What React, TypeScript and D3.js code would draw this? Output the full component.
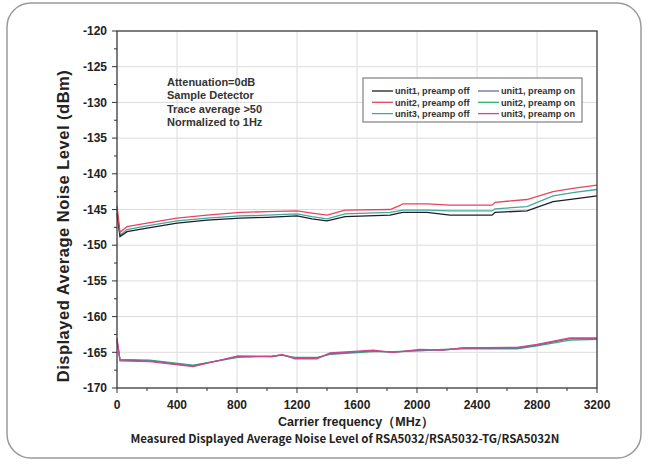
import React from "react";
import * as d3 from "d3";

const W = 648;
const H = 467;

// Upper group (preamp off)
const freqOff = [0, 20, 67, 200, 400, 600, 820, 1000, 1200, 1300, 1400, 1520, 1820, 1880, 1907, 2067, 2220, 2500, 2520, 2733, 2907, 3050, 3200];
const unit1Off = [-145.5, -148.8, -148.1, -147.6, -146.9, -146.5, -146.2, -146.1, -145.9, -146.3, -146.6, -146.0, -145.8, -145.5, -145.4, -145.4, -145.8, -145.8, -145.4, -145.2, -143.9, -143.5, -143.1];
const unit2Off = [-144.5, -148.2, -147.4, -146.9, -146.2, -145.8, -145.4, -145.3, -145.2, -145.5, -145.8, -145.1, -145.0, -144.5, -144.2, -144.2, -144.4, -144.4, -144.0, -143.6, -142.5, -142.0, -141.6];
const unit3Off = [-145.0, -148.6, -147.8, -147.3, -146.6, -146.2, -145.9, -145.8, -145.6, -146.0, -146.3, -145.6, -145.4, -145.2, -145.1, -145.1, -145.2, -145.2, -144.9, -144.6, -143.1, -142.6, -142.2];

// Lower group (preamp on)
const freqOn = [0, 20, 220, 507, 807, 1033, 1100, 1187, 1333, 1420, 1553, 1707, 1840, 2020, 2173, 2307, 2667, 2800, 3020, 3200];
const unit1On = [-163.3, -166.1, -166.2, -166.9, -165.6, -165.6, -165.4, -165.8, -165.8, -165.2, -165.0, -164.8, -165.0, -164.7, -164.7, -164.4, -164.4, -164.0, -163.1, -163.1];
const unit2On = [-163.5, -166.0, -166.1, -166.8, -165.7, -165.5, -165.4, -165.7, -165.7, -165.3, -165.1, -164.9, -164.9, -164.8, -164.6, -164.5, -164.5, -164.1, -163.3, -163.2];
const unit3On = [-163.0, -166.2, -166.3, -167.0, -165.5, -165.6, -165.3, -165.9, -165.9, -165.1, -164.9, -164.7, -165.0, -164.6, -164.7, -164.4, -164.3, -163.9, -163.0, -163.0];

const xTicks = [0, 400, 800, 1200, 1600, 2000, 2400, 2800, 3200];
const yTicks = [-170, -165, -160, -155, -150, -145, -140, -135, -130, -125, -120];

const annotationLines = ["Attenuation=0dB", "Sample Detector", "Trace average >50", "Normalized to 1Hz"];

const seriesNames = ["unit1, preamp off", "unit2, preamp off", "unit3, preamp off", "unit1, preamp on", "unit2, preamp on", "unit3, preamp on"];
const seriesColors = ["#1e1e2a", "#e8445e", "#40a8a0", "#6b6ba6", "#2fb170", "#d0458e"];

const series = [
  { name: seriesNames[0], color: seriesColors[0], x: freqOff, y: unit1Off },
  { name: seriesNames[1], color: seriesColors[1], x: freqOff, y: unit2Off },
  { name: seriesNames[2], color: seriesColors[2], x: freqOff, y: unit3Off },
  { name: seriesNames[3], color: seriesColors[3], x: freqOn, y: unit1On },
  { name: seriesNames[4], color: seriesColors[4], x: freqOn, y: unit2On },
  { name: seriesNames[5], color: seriesColors[5], x: freqOn, y: unit3On },
];

const drawOrder = [2, 0, 1, 4, 3, 5];

export default function App() {
  const L = 117, R = 597, T = 31, B = 388;
  const x = d3.scaleLinear().domain([0, 3200]).range([L, R]);
  const y = d3.scaleLinear().domain([-170, -120]).range([B, T]);
  const line = d3.line<[number, number]>().x(d => x(d[0])).y(d => y(d[1]));
  const xMinor = d3.range(200, 3200, 400);
  const yMinor = d3.range(-167.5, -120, 5);
  const font = "Arial, 'Liberation Sans', sans-serif";

  return (
    <svg width={W} height={H} style={{ position: "absolute", left: 0, top: 0, background: "#fff" }}>
      <rect x={0} y={0} width={W} height={H} fill="#fff" />
      <rect x={7} y={3} width={634} height={455} rx={24} ry={24} fill="#fff" stroke="#9a9a9a" strokeWidth={1.5} />
      {/* grid */}
      {xTicks.slice(1, -1).map(t => (
        <line key={"gx" + t} x1={x(t)} x2={x(t)} y1={T} y2={B} stroke="#dcdcdc" strokeWidth={1} />
      ))}
      {yTicks.slice(1, -1).map(t => (
        <line key={"gy" + t} x1={L} x2={R} y1={y(t)} y2={y(t)} stroke="#dcdcdc" strokeWidth={1} />
      ))}
      {/* series */}
      {drawOrder.map(i => {
        const s = series[i];
        const pts = s.x.map((f, k) => [f, s.y[k]] as [number, number]);
        return <path key={s.name} d={line(pts) || ""} fill="none" stroke={s.color} strokeWidth={1.3} />;
      })}
      {/* frame */}
      <rect x={L} y={T} width={R - L} height={B - T} fill="none" stroke="#3a3a3a" strokeWidth={1.3} />
      {/* y ticks */}
      {yTicks.map(t => (
        <g key={"yt" + t}>
          <line x1={L - 5} x2={L} y1={y(t)} y2={y(t)} stroke="#333" strokeWidth={1} />
          <text x={L - 10} y={y(t)} dy="0.35em" textAnchor="end" fontFamily={font} fontWeight="bold" fontSize={12} fill="#222">{t}</text>
        </g>
      ))}
      {yMinor.map(t => (
        <line key={"ym" + t} x1={L - 3} x2={L} y1={y(t)} y2={y(t)} stroke="#333" strokeWidth={1} />
      ))}
      {/* x ticks */}
      {xTicks.map(t => (
        <g key={"xt" + t}>
          <line x1={x(t)} x2={x(t)} y1={B} y2={B + 5} stroke="#333" strokeWidth={1} />
          <text x={x(t)} y={B + 21} textAnchor="middle" fontFamily={font} fontWeight="bold" fontSize={12} fill="#222">{t}</text>
        </g>
      ))}
      {xMinor.map(t => (
        <line key={"xm" + t} x1={x(t)} x2={x(t)} y1={B} y2={B + 3} stroke="#333" strokeWidth={1} />
      ))}
      {/* axis titles */}
      <text transform={`translate(63,226) rotate(-90)`} textAnchor="middle" dy="0.35em" fontFamily={font} fontWeight="bold" fontSize={16.5} letterSpacing={0.5} fill="#222">
        Displayed Average Noise Level (dBm)
      </text>
      <text x={356} y={426} textAnchor="middle" fontFamily={font} fontWeight="bold" fontSize={12.5} fill="#222">
        Carrier frequency（MHz）
      </text>
      <text x={345} y={443} textAnchor="middle" fontFamily="'Noto Sans CJK SC', 'Noto Sans', sans-serif" fontWeight="bold" fontSize={11.5} fill="#222">
        Measured Displayed Average Noise Level of RSA5032/RSA5032-TG/RSA5032N
      </text>
      {/* annotation */}
      {annotationLines.map((s, i) => (
        <text key={s} x={167} y={86 + i * 13.3} fontFamily={font} fontWeight="bold" fontSize={11} fill="#333">{s}</text>
      ))}
      {/* legend */}
      <rect x={363} y={78} width={219} height={44} fill="#fff" stroke="#666" strokeWidth={1} />
      {series.map((s, i) => {
        const col = i < 3 ? 0 : 1;
        const row = i % 3;
        const lx = col === 0 ? 372 : 478;
        const ly = 91 + row * 11.3;
        return (
          <g key={"lg" + i}>
            <line x1={lx} x2={lx + 21} y1={ly} y2={ly} stroke={s.color} strokeWidth={1.3} />
            <text x={lx + 23} y={ly} dy="0.35em" fontFamily={font} fontWeight="bold" fontSize={9.2} fill="#333">{s.name}</text>
          </g>
        );
      })}
    </svg>
  );
}
